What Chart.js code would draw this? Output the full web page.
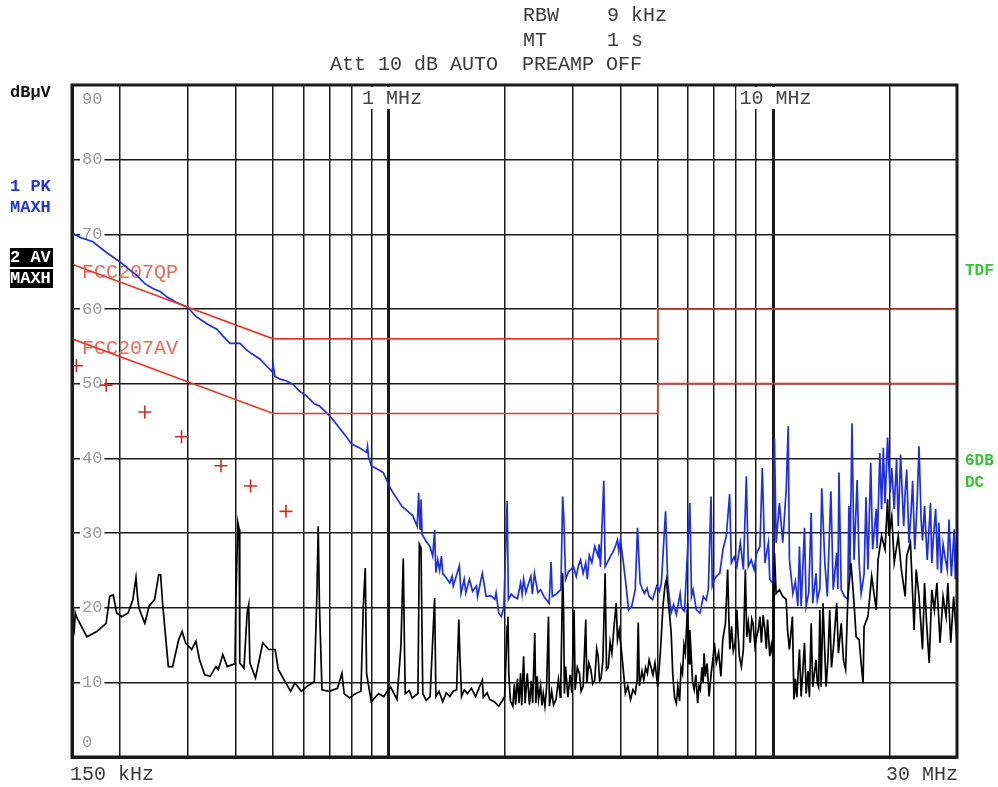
<!DOCTYPE html>
<html>
<head>
<meta charset="utf-8">
<script src="https://cdn.jsdelivr.net/npm/chart.js@4.4.1/dist/chart.umd.min.js"></script>
<style>
  html, body { margin: 0; padding: 0; background: #ffffff; }
  canvas { display: block; }
</style>
</head>
<body>
<canvas id="c" width="998" height="787"></canvas>
<script>
// ---------------- DATA (frequency in MHz, level in dBµV) ----------------
const gridFreqs = [0.2,0.3,0.4,0.5,0.6,0.7,0.8,0.9,1,2,3,4,5,6,7,8,9,10,20];
const yTicks = [0,10,20,30,40,50,60,70,80,90];
const yTickLabels = ['0','10','20','30','40','50','60','70','80','90'];

const qpLimitFreq  = [0.15, 0.5, 5, 5, 30];
const qpLimitLevel = [66, 56, 56, 60, 60];
const avLimitFreq  = [0.15, 0.5, 5, 5, 30];
const avLimitLevel = [56, 46, 46, 50, 50];

const qpMarkFreq  = [0.154, 0.184, 0.232, 0.289, 0.366, 0.437, 0.540];
const qpMarkLevel = [52.4, 49.8, 46.2, 42.9, 39.0, 36.3, 32.9];

const peakTrace = [
 [0.150,70.2],[0.157,69.6],[0.170,69.0],[0.184,67.6],[0.200,66.3],[0.210,65.4],[0.221,64.5],[0.232,63.4],
 [0.244,62.7],[0.255,62.3],[0.265,61.6],[0.280,60.9],[0.300,60.2],[0.315,59.0],[0.328,58.4],[0.342,57.8],
 [0.357,57.3],[0.370,56.4],[0.386,55.4],[0.410,55.4],[0.425,54.6],[0.440,54.0],[0.462,53.3],[0.480,52.4],
 [0.497,51.6],[0.500,52.6],[0.505,51.0],[0.521,50.6],[0.540,50.4],[0.564,49.9],[0.585,49.0],[0.610,48.4],
 [0.640,47.3],[0.660,47.0],[0.689,46.1],[0.720,45.0],[0.748,43.9],[0.775,42.9],[0.800,41.9],[0.840,41.4],
 [0.875,40.8],[0.880,41.6],[0.885,40.2],[0.900,39.0],[0.930,38.6],[0.967,38.1],[1.000,36.4],[1.024,35.4],
 [1.050,34.6],[1.080,33.6],[1.115,33.0],[1.154,32.3],[1.185,30.9],[1.195,35.4],[1.205,30.5],[1.212,34.5],
 [1.220,29.8],[1.250,28.9],[1.278,28.2],[1.300,26.9],[1.315,30.4],[1.325,24.7],[1.340,26.4],[1.355,25.0],
 [1.370,26.9],[1.380,24.6],[1.410,24.0],[1.440,23.3],[1.460,24.2],[1.470,22.9],[1.525,25.6],[1.540,21.9],
 [1.570,23.8],[1.585,22.0],[1.620,23.8],[1.650,22.2],[1.690,22.9],[1.700,21.5],[1.750,24.6],[1.790,21.5],
 [1.840,21.6],[1.886,21.1],[1.900,22.0],[1.930,19.3],[1.960,18.8],[1.990,20.0],[2.030,34.3],[2.045,21.1],
 [2.080,21.8],[2.110,21.5],[2.160,21.2],[2.200,23.3],[2.220,21.8],[2.240,23.8],[2.270,22.0],[2.300,23.0],
 [2.340,24.2],[2.360,21.8],[2.390,24.6],[2.440,22.0],[2.480,22.4],[2.530,21.5],[2.610,20.6],[2.640,26.1],
 [2.660,21.5],[2.720,21.8],[2.800,22.4],[2.830,34.9],[2.850,32.0],[2.880,23.8],[2.930,24.8],[2.970,25.1],
 [3.020,25.5],[3.070,24.2],[3.110,25.6],[3.150,26.4],[3.200,24.6],[3.250,26.0],[3.280,23.8],[3.320,27.0],
 [3.370,26.0],[3.430,28.2],[3.500,26.9],[3.520,28.5],[3.550,25.5],[3.620,37.0],[3.650,25.5],[3.710,26.2],
 [3.770,26.9],[3.820,27.4],[3.880,28.2],[3.930,29.1],[3.960,27.6],[4.000,29.1],[4.060,26.5],[4.120,23.8],
 [4.200,19.7],[4.280,20.2],[4.370,22.4],[4.430,30.7],[4.500,23.3],[4.560,22.5],[4.620,21.9],[4.690,22.6],
 [4.750,21.5],[4.850,21.1],[4.970,22.9],[5.050,22.2],[5.110,23.3],[5.240,32.9],[5.310,23.3],[5.420,19.3],
 [5.500,20.4],[5.590,19.1],[5.720,21.9],[5.760,20.2],[5.800,19.8],[5.870,19.5],[5.980,27.8],[6.060,34.0],
 [6.120,21.5],[6.180,22.4],[6.300,19.7],[6.440,19.3],[6.570,21.5],[6.680,21.0],[6.770,22.4],[6.880,34.9],
 [6.930,22.9],[7.020,23.8],[7.110,24.2],[7.250,24.6],[7.390,27.8],[7.540,29.6],[7.690,35.2],[7.770,26.0],
 [7.900,26.8],[8.030,25.5],[8.200,28.7],[8.350,25.1],[8.500,37.6],[8.600,25.5],[8.750,26.4],[8.900,25.1],
 [9.040,27.3],[9.220,28.2],[9.350,38.7],[9.500,26.0],[9.700,28.7],[9.780,23.8],[9.960,23.3],[10.06,42.6],
 [10.16,28.7],[10.36,34.0],[10.57,28.7],[10.79,35.8],[10.92,44.3],[11.00,26.4],[11.23,21.9],[11.40,23.5],
 [11.57,20.2],[11.68,28.2],[11.80,20.2],[12.04,30.7],[12.16,20.2],[12.35,22.0],[12.53,32.7],[12.65,20.6],
 [12.90,24.6],[13.00,21.0],[13.20,22.5],[13.35,36.0],[13.60,26.0],[13.80,21.5],[14.10,35.6],[14.30,22.4],
 [14.60,27.3],[14.70,22.5],[14.80,38.1],[15.00,22.4],[15.30,21.5],[15.60,21.1],[15.70,33.6],[15.80,25.0],
 [16.00,44.7],[16.20,26.4],[16.50,37.1],[16.70,26.0],[16.90,21.9],[17.20,24.5],[17.40,34.8],[17.60,25.1],
 [17.90,39.4],[18.10,27.8],[18.50,33.2],[18.60,28.0],[18.90,40.7],[19.10,33.2],[19.30,41.4],[19.50,34.0],
 [19.80,42.8],[20.10,35.4],[20.30,38.7],[20.60,33.2],[20.90,39.9],[21.10,30.9],[21.40,40.5],[21.80,30.9],
 [22.00,35.5],[22.20,38.5],[22.50,28.7],[22.80,33.0],[23.00,37.0],[23.30,27.8],[23.60,33.5],[23.90,41.6],
 [24.20,31.8],[24.40,29.0],[24.70,33.6],[25.10,26.4],[25.60,34.0],[25.80,26.0],[26.10,30.0],[26.40,33.2],
 [26.70,25.1],[26.90,31.4],[27.30,24.6],[27.60,28.5],[27.90,26.9],[28.30,25.1],[28.60,31.8],[29.00,24.2],
 [29.50,30.5],[29.70,23.8],[30.00,30.5]
];

const averageTrace = [
 [0.150,18.5],[0.152,17.0],[0.153,19.3],[0.154,18.8],[0.164,16.1],[0.174,16.8],[0.184,17.9],[0.188,21.5],
 [0.192,21.7],[0.196,19.3],[0.202,18.8],[0.210,19.3],[0.216,21.1],[0.220,24.0],[0.222,21.5],[0.224,19.9],
 [0.232,17.9],[0.238,20.2],[0.246,21.1],[0.252,24.4],[0.255,24.4],[0.258,20.6],[0.267,12.1],[0.274,12.1],
 [0.284,15.7],[0.290,16.8],[0.296,15.3],[0.307,14.4],[0.315,15.5],[0.322,13.0],[0.332,11.0],[0.343,10.8],
 [0.355,12.1],[0.360,11.7],[0.370,13.7],[0.380,12.1],[0.398,12.5],[0.400,21.1],[0.405,31.4],[0.408,30.5],
 [0.409,25.5],[0.410,12.6],[0.420,11.9],[0.428,19.3],[0.432,20.4],[0.435,12.6],[0.450,10.6],[0.470,15.3],
 [0.487,14.4],[0.506,14.4],[0.516,11.7],[0.540,9.9],[0.555,8.8],[0.570,9.9],[0.592,8.8],[0.610,9.4],
 [0.640,10.1],[0.650,21.9],[0.655,30.9],[0.660,20.2],[0.670,9.0],[0.700,8.8],[0.735,9.2],[0.755,11.2],
 [0.765,8.5],[0.790,7.9],[0.820,8.5],[0.846,8.8],[0.858,20.2],[0.868,25.3],[0.875,11.2],[0.900,7.4],
 [0.940,8.5],[0.970,8.1],[1.010,9.4],[1.050,7.7],[1.075,15.0],[1.090,26.6],[1.097,15.7],[1.103,8.5],
 [1.130,8.9],[1.150,7.9],[1.190,8.5],[1.200,28.5],[1.212,28.0],[1.225,8.5],[1.250,7.6],[1.280,8.1],
 [1.315,21.3],[1.325,8.1],[1.350,8.8],[1.380,7.4],[1.410,8.6],[1.440,8.1],[1.470,8.8],[1.500,9.0],
 [1.520,18.4],[1.530,13.5],[1.545,8.1],[1.570,9.0],[1.600,8.5],[1.640,9.2],[1.680,8.1],[1.750,10.3],
 [1.760,8.0],[1.800,8.6],[1.830,7.7],[1.880,7.4],[1.930,6.8],[1.970,7.5],[2.000,8.1],[2.030,17.5],
 [2.040,18.8],[2.050,11.2],[2.070,7.5],[2.100,6.8],[2.120,9.8],[2.135,7.0],[2.160,10.5],[2.180,7.2],
 [2.200,11.2],[2.215,6.9],[2.240,13.5],[2.260,7.2],[2.290,11.2],[2.320,7.0],[2.345,10.2],[2.365,7.2],
 [2.395,16.6],[2.410,7.2],[2.430,10.8],[2.450,7.7],[2.480,9.6],[2.500,6.9],[2.520,8.5],[2.545,6.8],
 [2.570,9.2],[2.600,18.8],[2.615,6.8],[2.650,8.8],[2.680,7.0],[2.720,7.7],[2.760,10.4],[2.790,8.0],
 [2.800,9.9],[2.830,24.6],[2.845,20.2],[2.860,8.5],[2.880,12.1],[2.920,8.0],[2.960,11.0],[2.990,8.6],
 [3.030,19.7],[3.050,9.0],[3.090,12.0],[3.130,11.2],[3.160,8.8],[3.200,9.5],[3.250,18.4],[3.270,9.9],
 [3.310,12.6],[3.350,11.7],[3.390,9.8],[3.430,10.3],[3.470,14.5],[3.500,13.5],[3.530,10.2],[3.560,10.5],
 [3.600,12.8],[3.650,24.6],[3.680,11.7],[3.720,12.0],[3.760,15.4],[3.800,13.9],[3.850,17.5],[3.900,20.6],
 [3.930,15.7],[3.970,17.0],[4.030,13.9],[4.080,11.0],[4.120,8.5],[4.180,9.5],[4.250,7.7],[4.310,9.0],
 [4.370,8.5],[4.420,10.3],[4.450,18.0],[4.480,9.5],[4.550,11.5],[4.600,10.3],[4.650,12.0],[4.700,11.2],
 [4.750,13.0],[4.800,12.1],[4.860,11.0],[4.920,12.6],[4.960,11.0],[5.000,9.4],[5.080,14.0],[5.160,20.2],
 [5.220,22.9],[5.270,23.8],[5.320,21.1],[5.380,18.5],[5.420,16.6],[5.470,11.2],[5.530,8.0],[5.590,7.2],
 [5.640,9.5],[5.700,7.5],[5.750,12.0],[5.800,11.2],[5.850,15.0],[5.900,13.9],[5.980,20.6],[6.030,12.5],
 [6.060,17.0],[6.100,14.4],[6.160,10.0],[6.220,9.0],[6.280,11.0],[6.350,7.2],[6.400,9.5],[6.450,9.0],
 [6.520,12.0],[6.560,10.0],[6.600,13.9],[6.650,10.8],[6.720,12.5],[6.800,8.1],[6.880,11.0],[6.970,13.5],
 [7.020,15.3],[7.100,12.6],[7.200,14.0],[7.300,10.8],[7.380,15.7],[7.500,17.9],[7.600,25.1],[7.660,17.9],
 [7.700,14.4],[7.780,17.5],[7.860,14.2],[7.950,15.3],[8.030,19.7],[8.100,16.0],[8.150,13.5],[8.250,12.1],
 [8.350,14.4],[8.450,25.1],[8.520,16.1],[8.600,18.0],[8.700,15.3],[8.780,18.5],[8.850,17.9],[8.950,14.8],
 [9.040,16.1],[9.130,17.0],[9.220,18.8],[9.300,15.3],[9.400,19.0],[9.500,17.0],[9.580,14.5],[9.650,18.4],
 [9.780,13.5],[9.870,15.0],[9.960,13.5],[10.06,27.3],[10.16,21.9],[10.36,22.4],[10.57,21.5],[10.79,21.1],
 [10.88,17.0],[11.00,14.4],[11.20,18.8],[11.30,7.7],[11.40,10.5],[11.50,8.0],[11.68,14.4],[11.80,8.1],
 [11.90,11.0],[12.04,15.3],[12.16,8.5],[12.30,11.5],[12.40,8.0],[12.53,17.9],[12.65,9.4],[12.90,13.0],
 [13.00,9.9],[13.10,9.4],[13.20,19.7],[13.30,9.4],[13.45,20.6],[13.70,9.4],[13.85,13.0],[14.00,19.7],
 [14.15,12.0],[14.30,14.4],[14.60,20.6],[14.75,13.9],[15.00,17.9],[15.20,13.0],[15.40,11.7],[15.60,21.1],
 [15.90,26.0],[16.20,20.6],[16.40,16.1],[16.70,15.7],[16.90,12.5],[17.10,9.9],[17.20,17.5],[17.60,18.8],
 [18.00,24.2],[18.30,21.5],[18.50,19.7],[18.70,26.4],[19.10,29.6],[19.50,27.8],[19.80,34.5],[19.95,29.6],
 [20.30,32.2],[20.60,26.0],[21.10,29.6],[21.50,25.1],[22.00,21.5],[22.20,26.9],[22.70,28.7],[22.90,24.2],
 [23.20,17.0],[23.50,25.1],[23.90,21.5],[24.40,14.4],[24.70,23.3],[25.00,18.0],[25.40,12.6],[25.80,22.4],
 [26.20,19.7],[26.60,23.3],[27.10,15.3],[27.60,21.5],[28.10,18.8],[28.40,23.3],[28.90,15.3],[29.40,21.5],
 [30.00,15.3]
];

const headerLines = [
  { text: 'RBW    9 kHz', x: 523, y: 16 },
  { text: 'MT     1 s',   x: 523, y: 41 },
  { text: 'Att 10 dB AUTO  PREAMP OFF', x: 330, y: 65 }
];

// ---------------- CHART ----------------
const toPts = (fs, ls) => fs.map((f, i) => ({ x: f, y: ls[i] }));
const pairPts = arr => arr.map(p => ({ x: p[0], y: p[1] }));

const MONO = '"Liberation Mono", "DejaVu Sans Mono", monospace';

const annotPlugin = {
  id: 'annot',
  beforeDatasetsDraw(chart) {
    const { ctx, chartArea: a, scales: { x, y } } = chart;
    ctx.save();
    ctx.textBaseline = 'middle';
    ctx.font = '20px ' + MONO;
    const mhz = [{ v: 1, t: '1 MHz', dx: -27 }, { v: 10, t: '10 MHz', dx: -34 }];
    mhz.forEach(m => {
      const px = x.getPixelForValue(m.v) + m.dx;
      const w = ctx.measureText(m.t).width;
      ctx.fillStyle = '#ffffff';
      ctx.fillRect(px - 3, a.top + 2, w + 6, 22);
      ctx.fillStyle = '#444444';
      ctx.fillText(m.t, px, a.top + 14);
    });
    ctx.font = '17px ' + MONO;
    yTicks.forEach((v, i) => {
      let py = y.getPixelForValue(v);
      if (v === 90) py += 14;
      if (v === 0) py -= 15;
      const t = yTickLabels[i];
      const w = ctx.measureText(t).width;
      if (v > 0 && v < 90) {
        ctx.fillStyle = '#ffffff';
        ctx.fillRect(a.left + 8, py - 7, w + 4, 14);
      }
      ctx.fillStyle = '#9a9a9a';
      ctx.fillText(t, a.left + 10, py);
    });
    ctx.font = '20px ' + MONO;
    ctx.fillStyle = '#e36b5c';
    ctx.fillText('FCC207QP', a.left + 10, y.getPixelForValue(64.8));
    ctx.fillText('FCC207AV', a.left + 10, y.getPixelForValue(54.7));
    ctx.restore();
  },
  afterDraw(chart) {
    const { ctx, chartArea: a } = chart;
    ctx.save();
    ctx.strokeStyle = '#1a1a1a';
    ctx.lineWidth = 3;
    ctx.strokeRect(a.left, a.top, a.right - a.left, a.bottom - a.top);
    ctx.textBaseline = 'middle';
    ctx.font = '20px ' + MONO;
    ctx.fillStyle = '#3a3a3a';
    headerLines.forEach(h => ctx.fillText(h.text, h.x, h.y));
    ctx.fillText('150 kHz', a.left - 2, 775);
    ctx.textAlign = 'right';
    ctx.fillText('30 MHz', a.right + 1, 775);
    ctx.textAlign = 'left';
    ctx.font = 'bold 17px ' + MONO;
    ctx.fillStyle = '#111111';
    ctx.fillText('dB\u00b5V', 10, 93);
    ctx.fillStyle = '#2233dd';
    ctx.fillText('1 PK', 10, 187);
    ctx.fillText('MAXH', 10, 208);
    ctx.fillStyle = '#000000';
    ctx.fillRect(10, 248, 43, 19);
    ctx.fillRect(10, 269, 43, 19);
    ctx.fillStyle = '#ffffff';
    ctx.fillText('2 AV', 10, 258);
    ctx.fillText('MAXH', 10, 279);
    ctx.font = 'bold 16px ' + MONO;
    ctx.fillStyle = '#33c233';
    ctx.fillText('TDF', 965, 271);
    ctx.fillText('6DB', 965, 461);
    ctx.fillText('DC', 965, 483);
    ctx.restore();
  }
};

new Chart(document.getElementById('c'), {
  type: 'line',
  data: {
    datasets: [
      { label: 'QP markers', type: 'scatter', data: toPts(qpMarkFreq, qpMarkLevel),
        showLine: false, pointStyle: 'cross', pointRadius: 6.5, pointBorderWidth: 1.6,
        pointBorderColor: '#cc2a2a', pointBackgroundColor: '#cc2a2a', order: 0 },
      { label: 'FCC207QP', data: toPts(qpLimitFreq, qpLimitLevel), borderColor: '#e8352b',
        borderWidth: 1.6, pointRadius: 0, order: 1 },
      { label: 'FCC207AV', data: toPts(avLimitFreq, avLimitLevel), borderColor: '#e8352b',
        borderWidth: 1.6, pointRadius: 0, order: 1 },
      { label: '2 AV MAXH', data: pairPts(averageTrace), borderColor: '#000000',
        borderWidth: 1.7, pointRadius: 0, order: 2 },
      { label: '1 PK MAXH', data: pairPts(peakTrace), borderColor: '#1f2fdc',
        borderWidth: 1.7, pointRadius: 0, order: 3 }
    ]
  },
  options: {
    responsive: false,
    animation: false,
    events: [],
    layout: { padding: { left: 72, top: 85, right: 41, bottom: 30 } },
    plugins: { legend: { display: false }, tooltip: { enabled: false }, title: { display: false } },
    elements: { line: { tension: 0 } },
    scales: {
      x: {
        type: 'logarithmic', min: 0.15, max: 30,
        afterBuildTicks: s => { s.ticks = gridFreqs.map(v => ({ value: v })); },
        ticks: { display: false },
        grid: {
          drawTicks: false, color: '#1a1a1a',
          lineWidth: c => (c.tick && (c.tick.value === 1 || c.tick.value === 10)) ? 3 : 1.5
        },
        border: { display: true, color: '#1a1a1a', width: 3 }
      },
      y: {
        type: 'linear', min: 0, max: 90,
        afterBuildTicks: s => { s.ticks = yTicks.map(v => ({ value: v })); },
        ticks: { display: false },
        grid: { drawTicks: false, color: '#1a1a1a', lineWidth: 1.5 },
        border: { display: true, color: '#1a1a1a', width: 3 }
      }
    }
  },
  plugins: [annotPlugin]
});
</script>
</body>
</html>
